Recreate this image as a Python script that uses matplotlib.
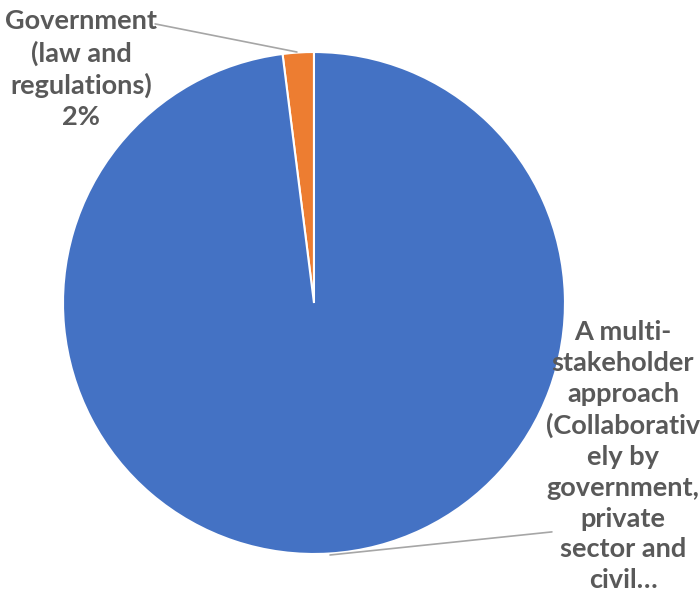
import matplotlib
matplotlib.use("Agg")
import matplotlib.pyplot as plt

# share of answers per category
labels = ["Government\n(law and\nregulations)\n2%",
          "A multi-\nstakeholder\napproach\n(Collaborativ\nely by\ngovernment,\nprivate\nsector and\ncivil…"]
values = [2, 98]
colors = ["#ED7D31", "#4472C4"]

plt.rcParams['font.family'] = ['Lato', 'DejaVu Sans']

fig = plt.figure(figsize=(7.0, 6.04), dpi=100)
ax = fig.add_axes([0, 0, 1, 1])
wedges, _ = ax.pie(values, colors=colors, startangle=90, counterclock=True,
                   radius=1.0, wedgeprops=dict(edgecolor="white", linewidth=1.5))
ax.set_xlim(-1.251, 1.538)
ax.set_ylim(-1.199, 1.207)
ax.set_aspect("equal")
ax.axis("off")

txt = dict(fontsize=19.5, fontweight="bold", color="#595959",
           ha="center", va="center", linespacing=1.34)
line = dict(arrowstyle="-", color="#A6A6A6", lw=1.2, shrinkA=0, shrinkB=0)

# data label for the small slice, leader line to its outer edge
ax.text(-0.928, 0.932, labels[0], **txt)
ax.annotate("", xy=(-0.068, 1.0), xytext=(-0.633, 1.112), arrowprops=line)

# data label for the large slice (percentage cut off)
ax.text(1.231, -0.610, labels[1], **txt)
ax.annotate("", xy=(0.064, -1.004), xytext=(0.948, -0.912), arrowprops=line)

fig.savefig("out.png", dpi=100)
